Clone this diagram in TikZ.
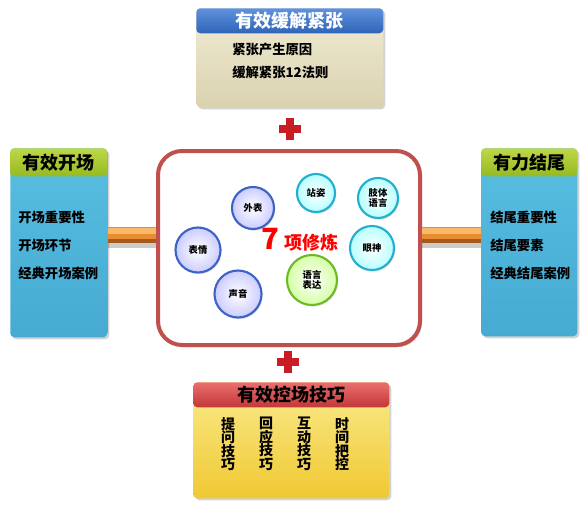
\documentclass[tikz,border=0pt]{standalone}
\usepackage{fontspec}
\setmainfont{Noto Sans CJK SC}
\usetikzlibrary{positioning, shadows}
\definecolor{hdblue}{RGB}{47,100,185}
\definecolor{hdbluelt}{RGB}{95,145,220}
\definecolor{sand}{RGB}{240,236,212}
\definecolor{sanddk}{RGB}{218,210,175}
\definecolor{leaf}{RGB}{150,185,35}
\definecolor{leaflt}{RGB}{190,215,70}
\definecolor{sky}{RGB}{88,190,225}
\definecolor{skydk}{RGB}{70,170,210}
\definecolor{brick}{RGB}{195,55,55}
\definecolor{bricklt}{RGB}{235,110,110}
\definecolor{lemon}{RGB}{250,235,140}
\definecolor{lemondk}{RGB}{240,200,50}
\definecolor{framered}{RGB}{192,80,77}
\definecolor{barorange}{RGB}{232,140,50}
\definecolor{barlight}{RGB}{250,185,105}
\definecolor{bardark}{RGB}{165,90,30}
\definecolor{plusred}{RGB}{200,30,35}
\definecolor{ringblue}{RGB}{60,100,200}
\definecolor{ringcyan}{RGB}{35,175,210}
\definecolor{ringgreen}{RGB}{110,185,40}

\begin{document}
\begin{tikzpicture}[
    x=0.75pt, y=-0.75pt,
    panel/.style={rectangle, rounded corners=3pt, anchor=north west, inner sep=0pt,
      drop shadow={opacity=0.35, shadow xshift=1.5pt, shadow yshift=-1.5pt}},
    header/.style={rectangle, rounded corners=3pt, anchor=north, inner sep=0pt, font=\bfseries\fontsize{13.5}{14}\selectfont},
    item/.style={inner sep=0pt, text height=8pt, text depth=1pt, font=\bfseries\fontsize{10}{10}\selectfont},
    column/.style={inner sep=0pt, align=center, font=\bfseries\fontsize{10.5}{10.2}\selectfont},
    ball/.style={circle, inner sep=0pt, line width=1.6pt, align=center, inner color=white,
      font=\bfseries\fontsize{7}{8}\selectfont, drop shadow={opacity=0.25, shadow xshift=0.8pt, shadow yshift=-1.2pt}},
    blueball/.style={ball, draw=ringblue, outer color=blue!20},
    cyanball/.style={ball, draw=ringcyan, outer color=cyan!28},
    greenball/.style={ball, draw=ringgreen, outer color=green!30!lime!35},
    bar/.style={line width=12pt, barorange},
    plusline/.style={line width=5.5pt, plusred}
]
    \useasboundingbox (0,0) rectangle (588,506);

    % top panel
    \node[panel, top color=sand, bottom color=sanddk, minimum width=187*0.75pt, minimum height=99*0.75pt] (ease) at (196,8) {};
    \node[header, top color=hdbluelt, bottom color=hdblue, text=white, minimum width=187*0.75pt, minimum height=25*0.75pt] (easehd) at (ease.north) {有效缓解紧张};
    \node[item, anchor=west] (cause) at (232,50) {紧张产生原因};
    \node[item, below right=7.5pt and 0pt of cause.south west] (rules) {缓解紧张12法则};

    % left panel
    \node[panel, top color=sky, bottom color=skydk, minimum width=97*0.75pt, minimum height=189*0.75pt] (open) at (10,148) {};
    \node[header, top color=leaflt, bottom color=leaf, minimum width=97*0.75pt, minimum height=28*0.75pt] (openhd) at (open.north) {有效开场};
    \node[item, anchor=west] (openA) at (18,218) {开场重要性};
    \node[item, below right=11.5pt and 0pt of openA.south west] (openB) {开场环节};
    \node[item, below right=11.5pt and 0pt of openB.south west] (openC) {经典开场案例};

    % right panel
    \node[panel, top color=sky, bottom color=skydk, minimum width=96*0.75pt, minimum height=188*0.75pt] (close) at (481,148) {};
    \node[header, top color=leaflt, bottom color=leaf, minimum width=96*0.75pt, minimum height=28*0.75pt] (closehd) at (close.north) {有力结尾};
    \node[item, anchor=west] (closeA) at (490,218) {结尾重要性};
    \node[item, below right=11.5pt and 0pt of closeA.south west] (closeB) {结尾要素};
    \node[item, below right=11.5pt and 0pt of closeB.south west] (closeC) {经典结尾案例};

    % centre frame
    \node[panel, fill=white, draw=framered, line width=3pt, rounded corners=18pt, minimum width=262*0.75pt, minimum height=194*0.75pt] (frame) at (156,149) {};
    % orange bars
    \draw[black, opacity=0.2, line width=5pt] ([yshift=-7pt]open.east |- 0,235) -- ([yshift=-7pt]frame.west |- 0,235);
    \draw[bar] (open.east |- 0,235) coordinate (barLa) -- (frame.west |- barLa);
    \draw[barlight, line width=4pt] ([yshift=3pt]barLa) -- ([yshift=3pt]frame.west |- barLa);
    \draw[bardark, line width=2.5pt] ([yshift=-4.5pt]barLa) -- ([yshift=-4.5pt]frame.west |- barLa);
    \draw[black, opacity=0.2, line width=5pt] ([yshift=-7pt]close.west |- 0,235) -- ([yshift=-7pt]frame.east |- 0,235);
    \draw[bar] (close.west |- 0,235) coordinate (barRa) -- (frame.east |- barRa);
    \draw[barlight, line width=4pt] ([yshift=3pt]barRa) -- ([yshift=3pt]frame.east |- barRa);
    \draw[bardark, line width=2.5pt] ([yshift=-4.5pt]barRa) -- ([yshift=-4.5pt]frame.east |- barRa);

    % seven skills
    \node[blueball, minimum size=42*0.75pt] (look) at (253,208) {外表};
    \node[cyanball, minimum size=38*0.75pt] (stand) at (316,193) {站姿};
    \node[cyanball, minimum size=40*0.75pt] (body) at (378,198) {肢体\\语言};
    \node[blueball, minimum size=45*0.75pt] (face) at (198,250) {表情};
    \node[cyanball, minimum size=44*0.75pt] (eyes) at (372,248) {眼神};
    \node[greenball, minimum size=50*0.75pt] (speech) at (312,280) {语言\\表达};
    \node[blueball, minimum size=47*0.75pt] (voice) at (238,294) {声音};
    \node[text=red, inner sep=0pt, font=\bfseries] (seven) at (300,240) {\fontsize{22}{22}\selectfont 7\,\fontsize{13.5}{14}\selectfont 项修炼};

    % plus signs
    \coordinate (plusA) at (290,129);
    \coordinate (plusB) at (288,362);
    \draw[plusline] (plusA) +(-11,0) -- +(11,0) +(0,-11) -- +(0,11);
    \draw[plusline] (plusB) +(-11,0) -- +(11,0) +(0,-11) -- +(0,11);

    % bottom panel
    \node[panel, top color=lemon, bottom color=lemondk, minimum width=196*0.75pt, minimum height=116*0.75pt] (ctrl) at (193,382) {};
    \node[header, top color=bricklt, bottom color=brick, minimum width=196*0.75pt, minimum height=25*0.75pt] (ctrlhd) at (ctrl.north) {有效控场技巧};
    \node[column] (ask) at (228,444) {提\\问\\技\\巧};
    \node[column] (reply) at (266,444) {回\\应\\技\\巧};
    \node[column] (inter) at (304,444) {互\\动\\技\\巧};
    \node[column] (timing) at (342,444) {时\\间\\把\\控};
\end{tikzpicture}
\end{document}
